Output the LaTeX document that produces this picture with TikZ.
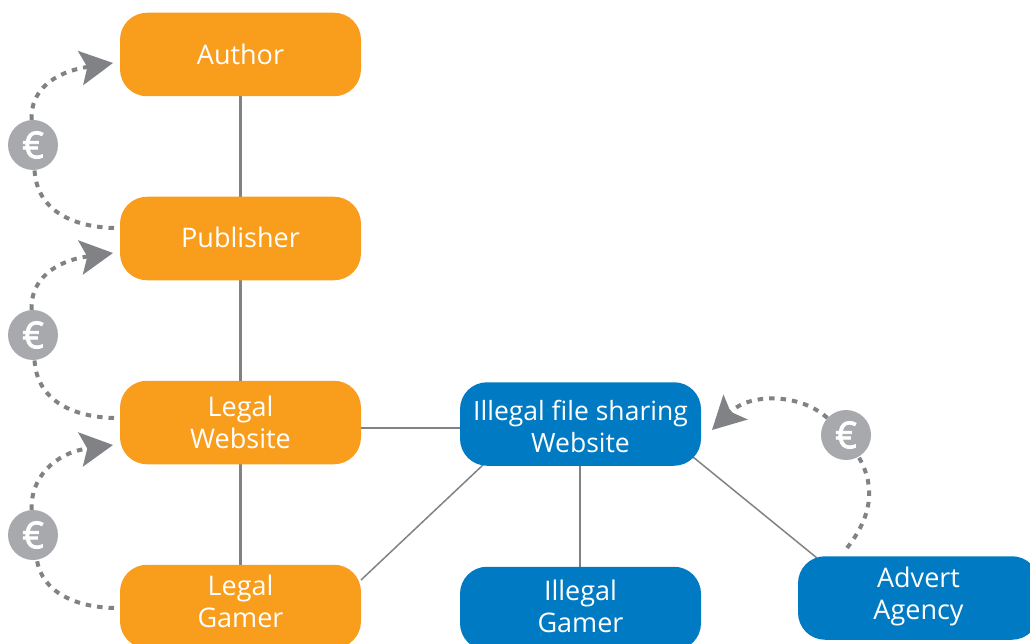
\documentclass[tikz,border=0pt]{standalone}
\usepackage{fontspec}
\setmainfont{Open Sans}
\usetikzlibrary{arrows.meta,backgrounds,calc}
\definecolor{orangebox}{HTML}{F99D1C}
\definecolor{bluebox}{HTML}{007BC3}
\definecolor{linkgray}{HTML}{808285}
\definecolor{coingray}{HTML}{A7A9AC}
\newcommand{\boxtext}[2]{\raisebox{#1}[0pt][0pt]{\begin{tabular}[c]{@{}c@{}}#2\end{tabular}}}
\tikzset{
  x=1pt,y=-1pt,
  actor/.style={rounded corners=27pt,minimum width=241pt,minimum height=83.5pt,inner sep=0pt,text=white,
    font=\fontsize{27}{32}\selectfont},
  legal/.style={actor,fill=orangebox},
  illegal/.style={actor,fill=bluebox},
  coin/.style={circle,fill=coingray,minimum size=50pt,inner sep=0pt,text=white,font=\fontsize{37}{37}\selectfont\addfontfeatures{FakeBold=2.5}},
  thicklink/.style={draw=linkgray,line width=3pt},
  thinlink/.style={draw=linkgray,line width=1.5pt},
  money/.style={draw=linkgray,line width=4pt,dash pattern=on 5.5pt off 6pt},
  moneyhead/.style={money,-{Stealth[length=33pt,width=35pt,inset=7pt,fill=linkgray,line width=0pt]}},
}
\begin{document}
\begin{tikzpicture}
\useasboundingbox (0,0) rectangle (1030,644);
\clip (0,0) rectangle (1030,644);
\node[legal] (author) at (240.5,54.5) {\boxtext{-10pt}{Author}};
\node[legal] (publisher) at (240.5,238.5) {\boxtext{-9pt}{Publisher}};
\node[legal] (lweb) at (240.5,422.5) {\boxtext{-9.5pt}{Legal\\Website}};
\node[legal] (lgamer) at (240.5,606.5) {\boxtext{-5pt}{Legal\\Gamer}};
\node[illegal,font=\fontsize{26.5}{32}\selectfont] (iweb) at (580.5,424) {\boxtext{-12pt}{Illegal file sharing\\Website}};
\node[illegal] (igamer) at (580.5,608.5) {\boxtext{-8pt}{Illegal\\Gamer}};
\node[illegal] (advert) at (918.5,598) {\boxtext{-5pt}{Advert\\Agency}};
\node[coin] (e1) at (33,145) {€};
\node[coin] (e2) at (33,335) {€};
\node[coin] (e3) at (33,535) {€};
\node[coin] (e4) at (846,435) {€};
\coordinate (t1) at (113,63);
\coordinate (t2) at (113,253);
\coordinate (t3) at (113,445);
\coordinate (t4) at (712,430);
\coordinate (s1) at (114,228);
\coordinate (s2) at (114,418);
\coordinate (s3) at (114,608);
\coordinate (s4) at (847,548);
\coordinate (lg) at (361,580);
\coordinate (iwsw) at (484,464);
\coordinate (iwse) at (693,457);
\coordinate (adnw) at (817,558);
\begin{scope}[on background layer]
\draw[thicklink] (author) -- (publisher);
\draw[thicklink] (publisher) -- (lweb);
\draw[thicklink] (lweb) -- (lgamer);
\draw[thinlink] (lweb.east |- 0,428) -- (iweb.west |- 0,428);
\draw[thinlink] (iwsw) -- (lg);
\draw[line width=2pt,draw=linkgray] ([xshift=-0.5pt]iweb.south) -- ([xshift=-0.5pt]igamer.north);
\draw[thinlink] (iwse) -- (adnw);
\end{scope}
\draw[money] (s1) .. controls (75,227) and (37,212) .. (e1);
\draw[moneyhead] (e1) .. controls (30,90) and (55,72) .. (t1);
\draw[money] (s2) .. controls (75,417) and (37,402) .. (e2);
\draw[moneyhead] (e2) .. controls (30,280) and (55,261) .. (t2);
\draw[money] (s3) .. controls (75,607) and (42,592) .. (e3);
\draw[moneyhead] (e3) .. controls (30,478) and (55,453) .. (t3);
\draw[money] (s4) .. controls (877,510) and (872,480) .. (e4);
\draw[moneyhead] (e4) .. controls (800,393) and (750,393) .. (t4);
\end{tikzpicture}
\end{document}
